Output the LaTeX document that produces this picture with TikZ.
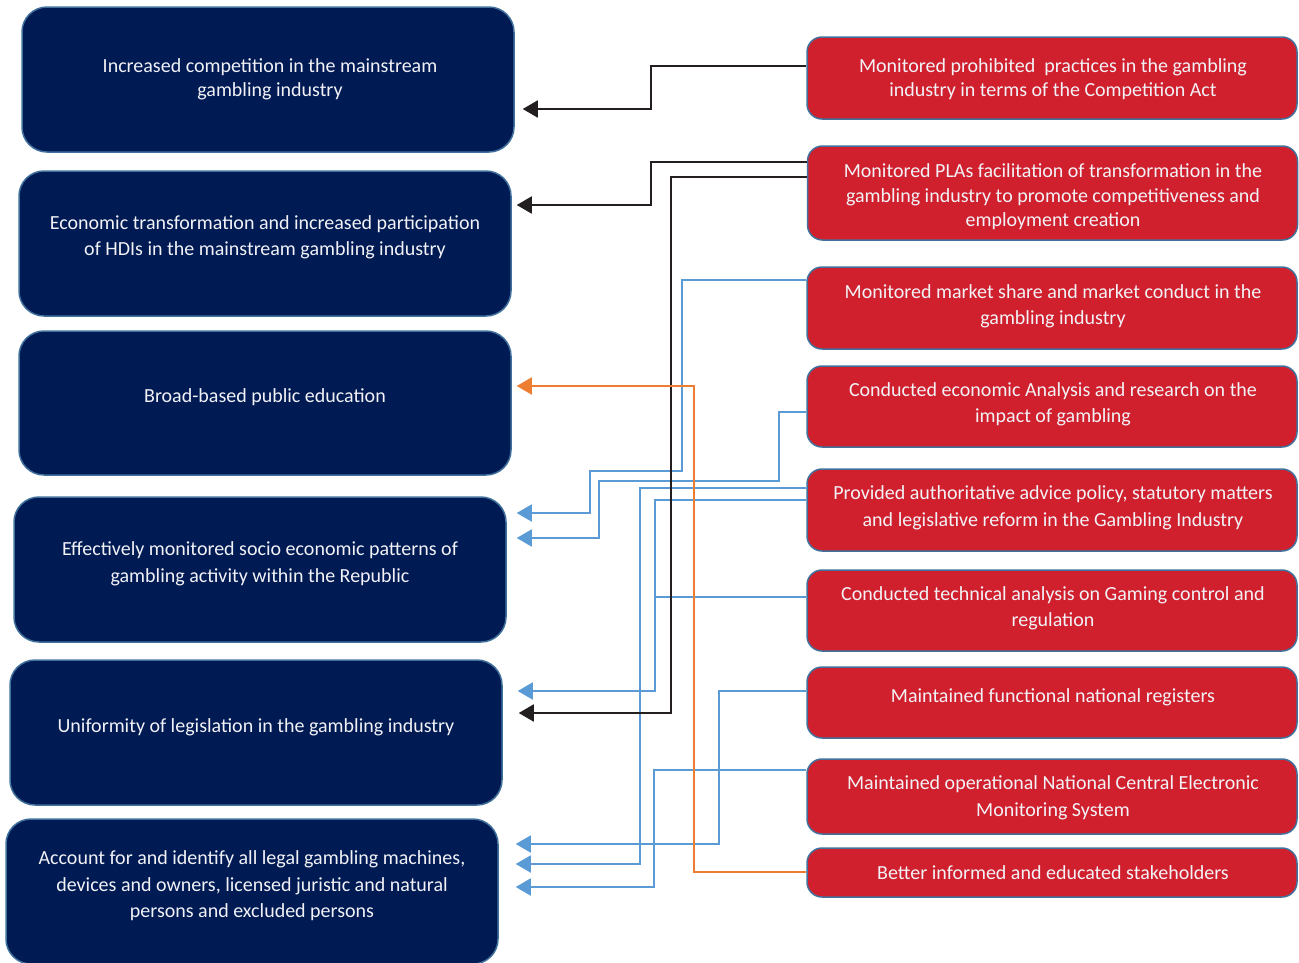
\documentclass[tikz,border=0pt]{standalone}
\usepackage{fontspec}
\setmainfont{Carlito}
\usetikzlibrary{arrows.meta}
\definecolor{navy}{RGB}{0,26,84}
\definecolor{boxred}{RGB}{208,32,46}
\definecolor{edge}{RGB}{65,113,156}
\definecolor{txt}{RGB}{242,242,246}
\definecolor{lblue}{RGB}{91,155,213}
\definecolor{lorange}{RGB}{237,125,49}
\definecolor{lblack}{RGB}{35,31,32}
\tikzset{
  outbox/.style={draw=edge, line width=1.5pt, fill=navy, rounded corners=25pt, inner sep=0pt, minimum width=492pt, minimum height=145pt},
  actbox/.style={draw=edge, line width=1.5pt, fill=boxred, rounded corners=15pt, inner sep=0pt, minimum width=490pt},
  lbl/.style={text=txt, align=center, inner sep=0pt, font=\fontsize{20}{25.5}\selectfont, yshift=-2.5pt},
  conn/.style={line width=1.8pt, -{Triangle[length=15pt,width=17pt]}},
  kline/.style={conn, color=lblack},
  bline/.style={conn, color=lblue},
  oline/.style={conn, color=lorange},
}
\begin{document}
\begin{tikzpicture}[x=1pt,y=-1pt]
\useasboundingbox (0,0) rectangle (1299,962);
% left outcome boxes
\node[outbox] (l1) at (268,79.5) {};
\node[outbox] (l2) at (265,243.5) {};
\node[outbox, minimum height=144pt] (l3) at (265,403) {};
\node[outbox] (l4) at (260,569.5) {};
\node[outbox] (l5) at (256,732.5) {};
\node[outbox] (l6) at (252,891.5) {};
\node[lbl, font=\fontsize{20}{24.5}\selectfont] (tl1) at (270,77) {Increased competition in the mainstream\\gambling industry};
\node[lbl, font=\fontsize{20}{26}\selectfont] (tl2) at (265,235) {Economic transformation and increased participation\\of HDIs in the mainstream gambling industry};
\node[lbl] (tl3) at (265,395) {Broad-based public education};
\node[lbl, font=\fontsize{20}{26.5}\selectfont] (tl4) at (260,561.5) {Effectively monitored socio economic patterns of\\gambling activity within the Republic};
\node[lbl] (tl5) at (256,725) {Uniformity of legislation in the gambling industry};
\node[lbl, font=\fontsize{20}{26.5}\selectfont] (tl6) at (252,883.5) {Account for and identify all legal gambling machines,\\devices and owners, licensed juristic and natural\\persons and excluded persons};
% right output boxes
\node[actbox, minimum height=82pt] (r1) at (1052,78) {};
\node[actbox, minimum height=94pt] (r2) at (1052.5,193) {};
\node[actbox, minimum height=82pt] (r3) at (1052,308) {};
\node[actbox, minimum height=81pt] (r4) at (1052,406.5) {};
\node[actbox, minimum height=82pt] (r5) at (1052,510) {};
\node[actbox, minimum height=81pt] (r6) at (1052,610.5) {};
\node[actbox, minimum height=71pt] (r7) at (1052,702.5) {};
\node[actbox, minimum height=75pt] (r8) at (1052,796.5) {};
\node[actbox, minimum height=49pt] (r9) at (1052,872.5) {};
\node[lbl, font=\fontsize{20}{24}\selectfont] (tr1) at (1053,77) {Monitored prohibited\ \ practices in the gambling\\industry in terms of the Competition Act};
\node[lbl, font=\fontsize{20}{24.5}\selectfont] (tr2) at (1053,194.5) {Monitored PLAs facilitation of transformation in the\\gambling industry to promote competitiveness and\\employment creation};
\node[lbl, font=\fontsize{20}{26}\selectfont] (tr3) at (1053,304) {Monitored market share and market conduct in the\\gambling industry};
\node[lbl, font=\fontsize{20}{26}\selectfont] (tr4) at (1053,402) {Conducted economic Analysis and research on the\\impact of gambling};
\node[lbl, font=\fontsize{20}{27}\selectfont] (tr5) at (1053,505.5) {Provided authoritative advice policy, statutory matters\\and legislative reform in the Gambling Industry};
\node[lbl, font=\fontsize{20}{26}\selectfont] (tr6) at (1053,606) {Conducted technical analysis on Gaming control and\\regulation};
\node[lbl] (tr7) at (1053,695) {Maintained functional national registers};
\node[lbl, font=\fontsize{20}{27}\selectfont] (tr8) at (1053,795.5) {Maintained operational National Central Electronic\\Monitoring System};
\node[lbl] (tr9) at (1053,870) {Better informed and educated stakeholders};
% connectors
\draw[bline, shorten >=10pt] (r3.west|-0,280) -| (682,471) -| (590,513) -- (l4.east|-0,513);
\draw[bline, shorten >=10pt] (r4.west|-0,412) -| (779,481) -| (599,538) -- (l4.east|-0,538);
\draw[bline, shorten >=17pt] (r5.west|-0,488) -| (640,864) -- (l6.east|-0,864);
\draw[bline, shorten >=15pt] (r5.west|-0,500) -| (655,691) -- (l5.east|-0,691);
\draw[line width=1.8pt, lblue] (r6.west|-0,597) -- (655,597);
\draw[bline, shorten >=17pt] (r7.west|-0,691) -| (719,844) -- (l6.east|-0,844);
\draw[bline, shorten >=17pt] (r8.west|-0,770) -| (654,887) -- (l6.east|-0,887);
\draw[kline, shorten >=8pt] (r1.west|-0,66) -| (651,109) -- (l1.east|-0,109);
\draw[kline, shorten >=5pt] (r2.west|-0,162) -| (651,205) -- (l2.east|-0,205);
\draw[kline, shorten >=16pt] (r2.west|-0,177) -| (671,713) -- (l5.east|-0,713);
\draw[oline, shorten >=5pt] (r9.west|-0,872) -| (694,386) -- (l3.east|-0,386);
\end{tikzpicture}
\end{document}
